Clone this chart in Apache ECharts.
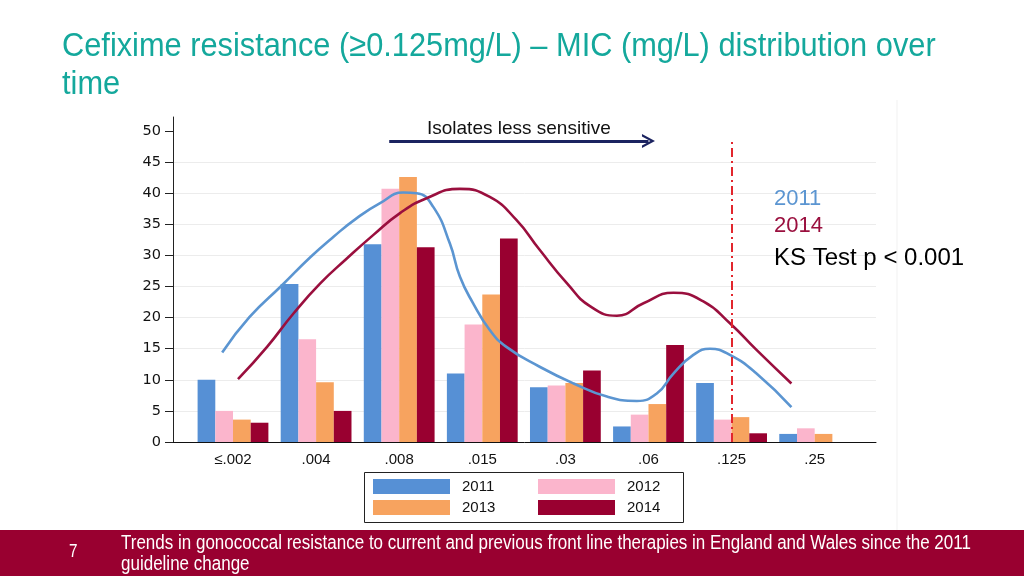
<!DOCTYPE html>
<html><head><meta charset="utf-8">
<script src="https://cdn.jsdelivr.net/npm/echarts@6/dist/echarts.min.js"></script>
<style>html,body{margin:0;padding:0;background:#fff}#c{width:1024px;height:576px}</style>
</head><body><div id="c"></div>
<script>
// ---- data ----
const categories = ['≤.002', '.004', '.008', '.015', '.03', '.06', '.125', '.25'];
const years = ['2011', '2012', '2013', '2014'];
const v2011 = [10.0, 25.4, 31.8, 11.0, 8.8, 2.5, 9.5, 1.3];
const v2012 = [5.0, 16.5, 40.7, 18.9, 9.1, 4.4, 3.6, 2.2];
const v2013 = [3.6, 9.6, 42.6, 23.7, 9.5, 6.1, 4.0, 1.3];
const v2014 = [3.1, 5.0, 31.3, 32.7, 11.5, 15.6, 1.4, 0];
// fitted distribution curves: position in category units, value
const curve2011Pos = [-0.13, 0.20, 0.59, 0.93, 1.21, 1.49, 1.77, 2.05, 2.21, 2.41, 2.61, 2.73, 2.89, 3.09, 3.29, 3.69, 4.10, 4.50, 4.86, 5.10, 5.30, 5.54, 5.74, 5.98, 6.30, 6.72];
const curve2011Val = [14.4, 20.1, 25.2, 29.7, 33.0, 36.0, 38.4, 40.1, 40.0, 37.8, 31.9, 26.6, 22.3, 18.0, 15.3, 12.1, 9.4, 7.3, 6.6, 7.8, 11.0, 14.0, 15.0, 14.0, 11.0, 5.6];
const curve2014Pos = [0.06, 0.41, 0.73, 1.05, 1.37, 1.69, 2.01, 2.33, 2.73, 3.09, 3.41, 3.69, 4.02, 4.30, 4.62, 4.94, 5.30, 5.66, 5.98, 6.30, 6.72];
const curve2014Val = [10.1, 15.3, 20.7, 25.5, 29.5, 33.3, 36.8, 39.2, 40.7, 39.4, 35.7, 30.9, 25.5, 21.8, 20.3, 22.3, 24.0, 22.6, 19.1, 14.8, 9.4];
const yTicks = [0, 5, 10, 15, 20, 25, 30, 35, 40, 45, 50];
const thresholdCategory = '.125';
const arrowFrom = [1.88, 48.4];
const arrowTo = [5.0, 48.4];
const arrowLabel = 'Isolates less sensitive';
const titleText = 'Cefixime resistance (≥0.125mg/L) – MIC (mg/L) distribution over\ntime';
const footerText = 'Trends in gonococcal resistance to current and previous front line therapies in England and Wales since the 2011\nguideline change';
const pageNo = '7';
const ksLines = ['2011', '2014', 'KS Test p < 0.001'];

const barColors = ['#5690D5', '#FBB5CC', '#F7A35F', '#990030'];
const barValues = [v2011, v2012, v2013, v2014];
const axisFont = 'Liberation Sans, Arial, sans-serif';

const chart = echarts.init(document.getElementById('c'), null, {renderer: 'canvas'});

const barSeries = years.map((y, k) => ({
  name: y, type: 'bar', barWidth: 17.7, barGap: '0%',
  itemStyle: {color: barColors[k]}, z: 2,
  data: barValues[k].map((v, i) => [i, v])
}));

const option = {
  backgroundColor: '#ffffff',
  animation: false,
  grid: {left: 173, right: 148, top: 117, bottom: 134, containLabel: false},
  xAxis: {
    type: 'value', min: -0.722, max: 7.738,
    axisLine: {show: true, onZero: false, lineStyle: {color: '#111', width: 1}},
    axisTick: {show: false},
    splitLine: {show: false},
    axisLabel: {
      customValues: categories.map((c, i) => i),
      formatter: v => categories[Math.round(v)] || '',
      fontFamily: axisFont, fontSize: 15, color: '#111', margin: 10
    }
  },
  yAxis: {
    type: 'value', min: 0, max: 52.25, interval: 5,
    axisLine: {show: true, onZero: false, lineStyle: {color: '#222', width: 1}},
    axisTick: {show: true, length: 8, customValues: yTicks, lineStyle: {color: '#222'}},
    axisLabel: {customValues: yTicks, fontFamily: 'DejaVu Sans, sans-serif', fontSize: 14.5, color: '#111', margin: 12},
    splitLine: {show: true, showMaxLine: false, lineStyle: {color: '#ececec', width: 1}}
  },
  legend: years.map((y, i) => ({
    data: [y], selectedMode: false, icon: 'rect', padding: 0,
    left: [373, 538][i % 2], top: [479, 500][Math.floor(i / 2)],
    itemWidth: 77, itemHeight: 15, itemGap: 0,
    textStyle: {fontFamily: axisFont, fontSize: 15, color: '#111', padding: [0, 0, 0, 7]}
  })),
  series: [
    {
      type: 'line', data: [], z: 1, silent: true,
      markLine: {
        silent: true, symbol: ['none', 'none'], animation: false, label: {show: false},
        lineStyle: {color: '#E2262D', width: 2, type: [9, 4, 2, 4]},
        data: [[{coord: [categories.indexOf(thresholdCategory), 0]}, {coord: [categories.indexOf(thresholdCategory), 48.7]}]]
      }
    },
    ...barSeries,
    {
      name: 'fit2011', type: 'line', smooth: 0.5, showSymbol: false, z: 4,
      lineStyle: {color: '#5B95D1', width: 2.6},
      data: curve2011Pos.map((p, i) => [p, curve2011Val[i]])
    },
    {
      name: 'fit2014', type: 'line', smooth: 0.5, showSymbol: false, z: 4,
      lineStyle: {color: '#9A0F3E', width: 2.6},
      data: curve2014Pos.map((p, i) => [p, curve2014Val[i]])
    },
    {
      type: 'line', data: [], z: 5, silent: true,
      markLine: {
        silent: true, animation: false,
        symbol: ['none', 'path://M10,0 L20,20 L16.5,20 L10,7 L3.5,20 L0,20 Z'], symbolSize: [14, 13],
        lineStyle: {color: '#1B2360', width: 3, type: 'solid'},
        label: {show: true, position: 'middle', formatter: arrowLabel, fontFamily: axisFont, fontSize: 19, color: '#111', distance: 3},
        data: [[{coord: arrowFrom}, {coord: arrowTo}]]
      }
    }
  ],
  graphic: [
    {type: 'line', z: 0, shape: {x1: 897, y1: 100, x2: 897, y2: 530}, style: {stroke: '#f1f1f1', lineWidth: 1}, silent: true},
    {type: 'rect', z: 10, shape: {x: 364.5, y: 472.5, width: 319, height: 50}, style: {fill: 'none', stroke: '#222', lineWidth: 1}, silent: true},
    {type: 'text', z: 10, x: 62, y: 28, scaleX: 0.905, style: {text: titleText, fill: '#14A89C', font: '34px Liberation Sans, Arial, sans-serif', lineHeight: 38}},
    {type: 'text', z: 10, x: 774, y: 188, style: {text: ksLines[0], fill: '#5B95D1', font: '22px Liberation Sans, Arial, sans-serif'}},
    {type: 'text', z: 10, x: 774, y: 215, style: {text: ksLines[1], fill: '#9A0F3E', font: '22px Liberation Sans, Arial, sans-serif'}},
    {type: 'text', z: 10, x: 774, y: 246, style: {text: ksLines[2], fill: '#000', font: '24px Liberation Sans, Arial, sans-serif'}},
    {type: 'rect', z: 10, shape: {x: 0, y: 530, width: 1024, height: 46}, style: {fill: '#990030'}, silent: true},
    {type: 'text', z: 11, x: 69, y: 543, scaleX: 0.85, style: {text: pageNo, fill: '#fff', font: '18px Liberation Sans, Arial, sans-serif'}},
    {type: 'text', z: 11, x: 121, y: 533, scaleX: 0.85, style: {text: footerText, fill: '#fff', font: '20px Liberation Sans, Arial, sans-serif', lineHeight: 21}}
  ]
};
chart.setOption(option);
</script>
</body></html>
